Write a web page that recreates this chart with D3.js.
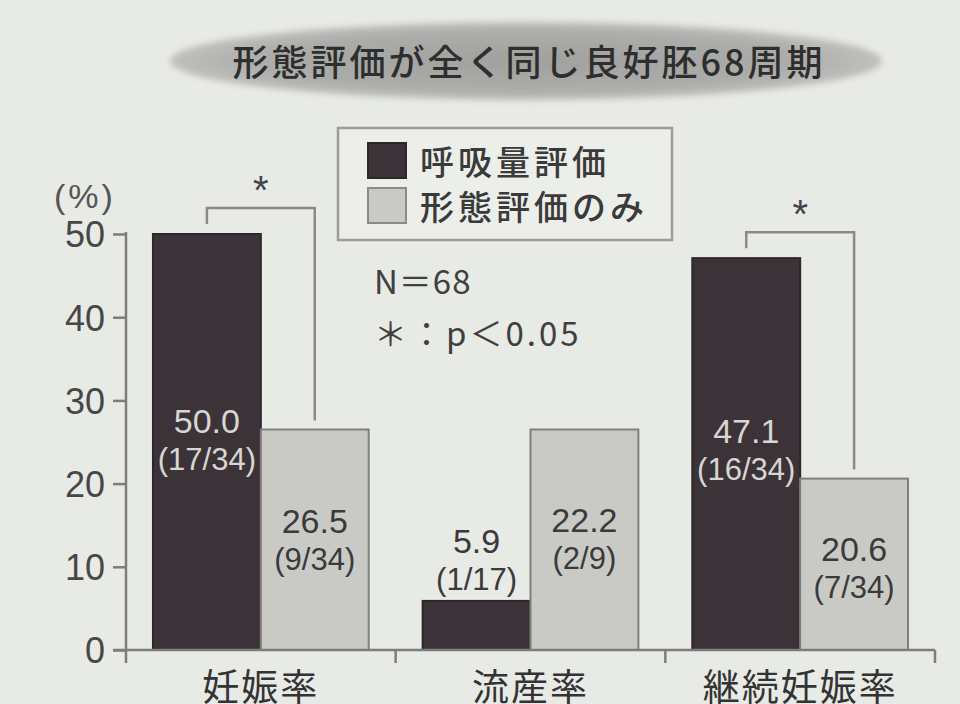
<!DOCTYPE html>
<html><head><meta charset="utf-8">
<script src="https://cdn.jsdelivr.net/npm/d3@7"></script>
<style>html,body{margin:0;padding:0;background:#e8eae5;}svg{display:block;}</style>
</head><body>
<script>
// ---- data ----
const title = "形態評価が全く同じ良好胚68周期";
const categories = ["妊娠率", "流産率", "継続妊娠率"];
const seriesNames = ["呼吸量評価", "形態評価のみ"];
// bar heights as drawn in the picture (%)
const respValues = [50.0, 5.9, 47.1];
const morphValues = [26.5, 26.5, 20.6];
// printed labels
const respLabels = ["50.0", "5.9", "47.1"];
const respFractions = ["(17/34)", "(1/17)", "(16/34)"];
const morphLabels = ["26.5", "22.2", "20.6"];
const morphFractions = ["(9/34)", "(2/9)", "(7/34)"];
const significant = [true, false, true];
const yTicks = [0, 10, 20, 30, 40, 50];
const notes = ["N＝68", "＊：p＜0.05"];

// ---- layout ----
const W = 960, H = 704;
const colors = ["#3b3337", "#c9cac6"];
const numFont = "'Liberation Sans', Arial, sans-serif";
const jpFont = "'Noto Sans CJK JP', sans-serif";
// label baselines (in value units) for [resp, morph] per category
const labelLevels = [[26.1, 14.1], [11.7, 14.2], [24.9, 10.7]];

const svg = d3.select("body").append("svg").attr("width", W).attr("height", H);
svg.append("rect").attr("width", W).attr("height", H).attr("fill", "#e8eae5");

const defs = svg.append("defs");
const rg = defs.append("radialGradient").attr("id", "tg");
rg.append("stop").attr("offset", "0%").attr("stop-color", "#a0a19e");
rg.append("stop").attr("offset", "75%").attr("stop-color", "#acadaa");
rg.append("stop").attr("offset", "100%").attr("stop-color", "#bfc0bd");
defs.append("filter").attr("id", "blur").append("feGaussianBlur").attr("stdDeviation", 3);

// title ellipse
svg.append("ellipse").attr("cx", 526).attr("cy", 61).attr("rx", 356).attr("ry", 39)
  .attr("fill", "url(#tg)").attr("filter", "url(#blur)");
svg.append("text").attr("x", 529).attr("y", 76).attr("text-anchor", "middle")
  .attr("font-family", jpFont).attr("font-size", 36).attr("font-weight", 500).attr("letter-spacing", 3)
  .attr("fill", "#2e2e2e").text(title);

// scales
const y = d3.scaleLinear().domain([0, 50]).range([650, 234]);
const x0 = d3.scaleBand().domain(categories).range([126, 935]).padding(0);
const x1 = d3.scaleBand().domain(seriesNames).range([0, x0.bandwidth()]).paddingInner(0).paddingOuter(0.25);

const axisColor = "#7d7e7c";

// y axis
const yAxis = svg.append("g").attr("transform", "translate(126,0)")
  .call(d3.axisLeft(y).tickValues(yTicks).tickSize(13).tickPadding(8).tickFormat(d3.format("d")));
yAxis.select(".domain").remove();
yAxis.selectAll(".tick line").attr("stroke", axisColor).attr("stroke-width", 2.5);
yAxis.selectAll(".tick text").attr("font-family", numFont).attr("font-size", 36)
  .attr("fill", "#474747").attr("dy", "0.36em");
svg.append("line").attr("x1", 126).attr("x2", 126).attr("y1", y(50) - 2).attr("y2", y(0) + 13)
  .attr("stroke", axisColor).attr("stroke-width", 2.5);
svg.append("text").attr("x", 85).attr("y", 208).attr("text-anchor", "middle")
  .attr("font-family", numFont).attr("font-size", 34).attr("letter-spacing", 3).attr("fill", "#555").text("(%)");

// bars
const data = categories.map((c, i) => ({ cat: c, i, vals: [respValues[i], morphValues[i]] }));
const groups = svg.append("g").selectAll("g").data(data).join("g")
  .attr("transform", d => `translate(${x0(d.cat)},0)`);
groups.selectAll("rect").data(d => d.vals.map((v, k) => ({ v, k }))).join("rect")
  .attr("x", d => x1(seriesNames[d.k]))
  .attr("y", d => y(d.v))
  .attr("width", x1.bandwidth())
  .attr("height", d => y(0) - y(d.v))
  .attr("fill", d => colors[d.k])
  .attr("stroke", d => d.k === 0 ? "#2c2729" : "#7f807e")
  .attr("stroke-width", 2);

// x axis baseline + boundary ticks
svg.append("line").attr("x1", 113).attr("x2", x0.range()[1]).attr("y1", y(0)).attr("y2", y(0))
  .attr("stroke", axisColor).attr("stroke-width", 2.5);
const xAxis = svg.append("g").attr("transform", `translate(0,${y(0)})`)
  .call(d3.axisBottom(x0).tickSize(0).tickPadding(20));
xAxis.select(".domain").remove();
xAxis.selectAll(".tick text").attr("font-family", jpFont).attr("font-size", 37).attr("letter-spacing", 2)
  .attr("fill", "#333").attr("dy", 0).attr("y", 51);
categories.forEach(c => {
  const bx = x0(c) + x0.bandwidth();
  svg.append("line").attr("x1", bx).attr("x2", bx).attr("y1", y(0)).attr("y2", y(0) + 13)
    .attr("stroke", axisColor).attr("stroke-width", 2.5);
});

// value labels
data.forEach((d, i) => {
  [0, 1].forEach(k => {
    const cx = x0(d.cat) + x1(seriesNames[k]) + x1.bandwidth() / 2;
    const by = y(labelLevels[i][k]);
    const inside = k === 0 && respValues[i] > labelLevels[i][k] + 3;
    const fill = inside ? "#d6d6d4" : "#3a3a3a";
    svg.append("text").attr("x", cx).attr("y", by).attr("text-anchor", "middle")
      .attr("font-family", numFont).attr("font-size", 34).attr("fill", fill)
      .text(k === 0 ? respLabels[i] : morphLabels[i]);
    svg.append("text").attr("x", cx).attr("y", by + 37).attr("text-anchor", "middle")
      .attr("font-family", numFont).attr("font-size", 31).attr("fill", fill)
      .text(k === 0 ? respFractions[i] : morphFractions[i]);
  });
});

// significance brackets
data.forEach((d, i) => {
  if (!significant[i]) return;
  const xa = x0(d.cat) + x1(seriesNames[0]) + x1.bandwidth() / 2;
  const xb = x0(d.cat) + x1(seriesNames[1]) + x1.bandwidth() / 2;
  const top = y(respValues[i]) - 26;
  svg.append("path")
    .attr("d", `M${xa},${y(respValues[i]) - 10}V${top}H${xb}V${y(morphValues[i]) - 9}`)
    .attr("fill", "none").attr("stroke", "#8a8b89").attr("stroke-width", 2.5);
  svg.append("text").attr("x", (xa + xb) / 2).attr("y", top - 4).attr("text-anchor", "middle")
    .attr("font-family", numFont).attr("font-size", 40).attr("fill", "#444").text("*");
});

// legend
const lg = svg.append("g");
lg.append("rect").attr("x", 338).attr("y", 128).attr("width", 334).attr("height", 112)
  .attr("fill", "#eceee9").attr("stroke", "#9c9d9a").attr("stroke-width", 2.5);
seriesNames.forEach((s, k) => {
  lg.append("rect").attr("x", 368).attr("y", 143 + k * 45).attr("width", 38).attr("height", 35)
    .attr("fill", colors[k]).attr("stroke", k === 0 ? "#2c2729" : "#8a8b89").attr("stroke-width", 2);
  lg.append("text").attr("x", 420).attr("y", 175 + k * 45)
    .attr("font-family", jpFont).attr("font-size", 34).attr("font-weight", 500).attr("letter-spacing", 4)
    .attr("fill", "#3a3a3a").text(s);
});

// notes
notes.forEach((n, k) => {
  svg.append("text").attr("x", 374).attr("y", 294 + k * 52)
    .attr("font-family", jpFont).attr("font-size", 33).attr("letter-spacing", k === 1 ? 3 : 1)
    .attr("fill", "#3f3f3f").text(n);
});
</script>
</body></html>
